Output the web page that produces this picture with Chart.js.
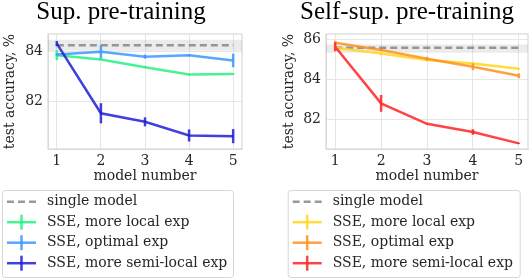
<!DOCTYPE html>
<html>
<head>
<meta charset="utf-8">
<script src="https://cdn.jsdelivr.net/npm/chart.js@4/dist/chart.umd.min.js"></script>
<style>
html, body { margin: 0; padding: 0; background: #fff; }
#wrap { position: relative; width: 530px; height: 278px; }
.box { position: absolute; top: 0; width: 265px; height: 278px; }
</style>
</head>
<body>
<div id="wrap">
  <div class="box" style="left:0"><canvas id="supChart" width="265" height="278"></canvas></div>
  <div class="box" style="left:265px"><canvas id="selfChart" width="265" height="278"></canvas></div>
</div>
<script>
const modelNums = [1, 2, 3, 4, 5];
const seriesNames = ['SSE, more local exp', 'SSE, optimal exp', 'SSE, more semi-local exp'];

// supervised pre-training
const supSingle = 84.24;
const supSingleBand = [84.02, 84.46];
const supLocal = [83.85, 83.68, 83.37, 83.08, 83.10];
const supLocalErr = [0.2, 0.03, 0.03, 0.03, 0.03];
const supOptimal = [83.88, 83.98, 83.79, 83.85, 83.64];
const supOptimalErr = [0.05, 0.26, 0.08, 0.04, 0.27];
const supSemi = [84.31, 81.54, 81.20, 80.66, 80.63];
const supSemiErr = [0.1, 0.4, 0.18, 0.24, 0.28];
const supYTicks = [82, 84];

// self-supervised pre-training
const selfSingle = 85.58;
const selfSingleBand = [85.33, 85.75];
const selfLocal = [85.58, 85.30, 84.97, 84.80, 84.53];
const selfLocalErr = [0.05, 0.1, 0.05, 0.05, 0.04];
const selfOptimal = [85.83, 85.47, 85.03, 84.63, 84.18];
const selfOptimalErr = [0.1, 0.05, 0.1, 0.17, 0.12];
const selfSemi = [85.63, 82.80, 81.78, 81.37, 80.80];
const selfSemiErr = [0.22, 0.42, 0.03, 0.14, 0.03];
const selfYTicks = [82, 84, 86];

const xRange = [0.8, 5.2];
const gridColor = '#e6e6e6';
const spineColor = '#d9d9d9';
const textColor = '#262626';
const tickFont = { family: 'DejaVu Serif', size: 14 };

const pts = (ys) => ys.map((v, i) => ({ x: modelNums[i], y: v }));

// error bars, spines, title and legend box
const decor = {
    id: 'decor',
    beforeDatasetsDraw(chart) {
        const { ctx, chartArea: a } = chart;
        ctx.save();
        ctx.strokeStyle = spineColor;
        ctx.lineWidth = 1.2;
        ctx.strokeRect(a.left, a.top, a.right - a.left, a.bottom - a.top);
        ctx.restore();
    },
    afterDatasetsDraw(chart) {
        const { ctx, scales: { x, y } } = chart;
        ctx.save();
        chart.data.datasets.forEach((ds) => {
            if (!ds.errors) return;
            ctx.strokeStyle = ds.borderColor;
            ctx.lineWidth = 2.5;
            ds.data.forEach((p, i) => {
                const px = x.getPixelForValue(p.x);
                ctx.beginPath();
                ctx.moveTo(px, y.getPixelForValue(p.y - ds.errors[i]));
                ctx.lineTo(px, y.getPixelForValue(p.y + ds.errors[i]));
                ctx.stroke();
            });
        });
        ctx.restore();
    },
    afterDraw(chart, args, opts) {
        const ctx = chart.ctx;
        ctx.save();
        ctx.fillStyle = '#000';
        ctx.font = '25px "Liberation Serif"';
        ctx.textAlign = 'center';
        ctx.textBaseline = 'alphabetic';
        ctx.fillText(opts.title, opts.titleX, 19);

        // legend
        const b = opts.legendBox;
        ctx.fillStyle = 'rgba(255,255,255,0.9)';
        ctx.strokeStyle = '#d6d6d6';
        ctx.lineWidth = 1;
        ctx.beginPath();
        ctx.roundRect(b.x + 0.5, b.y + 0.5, b.w, b.h, 3);
        ctx.fill();
        ctx.stroke();
        const items = chart.data.datasets.filter(d => d.inLegend);
        items.forEach((d, i) => {
            const cy = b.y + 11.7 + i * 20.5;
            const x0 = b.x + 5, x1 = b.x + 34;
            ctx.strokeStyle = d.borderColor;
            ctx.lineWidth = 2.5;
            ctx.setLineDash(d.borderDash || []);
            ctx.beginPath();
            ctx.moveTo(x0, cy);
            ctx.lineTo(x1, cy);
            ctx.stroke();
            ctx.setLineDash([]);
            if (d.errors) {
                ctx.beginPath();
                ctx.moveTo((x0 + x1) / 2, cy - 7.5);
                ctx.lineTo((x0 + x1) / 2, cy + 7.5);
                ctx.stroke();
            }
            ctx.fillStyle = textColor;
            ctx.font = '14px "DejaVu Serif"';
            ctx.textAlign = 'left';
            ctx.textBaseline = 'middle';
            ctx.fillText(d.label, b.x + 45, cy);
        });
        ctx.restore();
    }
};

function makeChart(id, cfg) {
    const datasets = [
        { label: 'band-lo', data: [{ x: xRange[0], y: cfg.band[0] }, { x: xRange[1], y: cfg.band[0] }],
          borderWidth: 0, pointRadius: 0, fill: false, order: 10 },
        { label: 'band-hi', data: [{ x: xRange[0], y: cfg.band[1] }, { x: xRange[1], y: cfg.band[1] }],
          borderWidth: 0, pointRadius: 0, fill: '-1', backgroundColor: 'rgba(0,0,0,0.08)', order: 9 },
        { label: 'single model', data: modelNums.map(n => ({ x: n, y: cfg.single })),
          borderColor: 'rgba(128,128,128,0.8)', borderDash: [7, 4], borderWidth: 2.5, pointRadius: 0, inLegend: true, order: 8 },
        { label: seriesNames[0], data: pts(cfg.series[0]), errors: cfg.errs[0], borderColor: cfg.colors[0],
          borderWidth: 2.5, pointRadius: 0, inLegend: true, order: 3 },
        { label: seriesNames[1], data: pts(cfg.series[1]), errors: cfg.errs[1], borderColor: cfg.colors[1],
          borderWidth: 2.5, pointRadius: 0, inLegend: true, order: 2 },
        { label: seriesNames[2], data: pts(cfg.series[2]), errors: cfg.errs[2], borderColor: cfg.colors[2],
          borderWidth: 2.5, pointRadius: 0, inLegend: true, order: 1 }
    ];
    return new Chart(document.getElementById(id), {
        type: 'line',
        data: { datasets: datasets },
        plugins: [decor],
        options: {
            responsive: false,
            animation: false,
            layout: { padding: cfg.padding },
            elements: { line: { tension: 0 } },
            scales: {
                x: {
                    type: 'linear', min: xRange[0], max: xRange[1],
                    afterBuildTicks: s => { s.ticks = modelNums.map(v => ({ value: v })); },
                    afterFit: s => { s.height = 40; },
                    grid: { color: gridColor, drawTicks: false },
                    border: { color: spineColor },
                    ticks: { padding: 4, font: tickFont, color: textColor },
                    title: { display: true, text: 'model number', font: tickFont, color: textColor, padding: { top: 0, bottom: 4 } }
                },
                y: {
                    min: cfg.yRange[0], max: cfg.yRange[1],
                    afterBuildTicks: s => { s.ticks = cfg.yTicks.map(v => ({ value: v })); },
                    afterFit: s => { s.width = cfg.yWidth; },
                    grid: { color: gridColor, drawTicks: false },
                    border: { color: spineColor },
                    ticks: { padding: 5, font: tickFont, color: textColor },
                    title: { display: true, text: 'test accuracy, %', font: tickFont, color: textColor, padding: { top: 0, bottom: 0 } }
                }
            },
            plugins: {
                legend: { display: false },
                tooltip: { enabled: false },
                decor: { title: cfg.title, titleX: cfg.titleX, legendBox: cfg.legendBox }
            }
        }
    });
}

makeChart('supChart', {
    title: 'Sup. pre-training', titleX: 121,
    single: supSingle, band: supSingleBand,
    series: [supLocal, supOptimal, supSemi],
    errs: [supLocalErr, supOptimalErr, supSemiErr],
    colors: ['rgba(40,240,130,0.85)', 'rgba(60,150,255,0.85)', 'rgba(30,30,215,0.85)'],
    yRange: [80.12, 84.69], yTicks: supYTicks, yWidth: 46,
    padding: { left: 2, top: 34, right: 23, bottom: 89 },
    legendBox: { x: 2, y: 190, w: 231, h: 87 }
});

makeChart('selfChart', {
    title: 'Self-sup. pre-training', titleX: 142,
    single: selfSingle, band: selfSingleBand,
    series: [selfLocal, selfOptimal, selfSemi],
    errs: [selfLocalErr, selfOptimalErr, selfSemiErr],
    colors: ['rgba(255,215,30,0.85)', 'rgba(255,145,30,0.85)', 'rgba(255,35,35,0.85)'],
    yRange: [80.52, 86.27], yTicks: selfYTicks, yWidth: 45,
    padding: { left: 16, top: 34, right: 2, bottom: 89 },
    legendBox: { x: 22.7, y: 190, w: 232, h: 87 }
});
</script>
</body>
</html>
